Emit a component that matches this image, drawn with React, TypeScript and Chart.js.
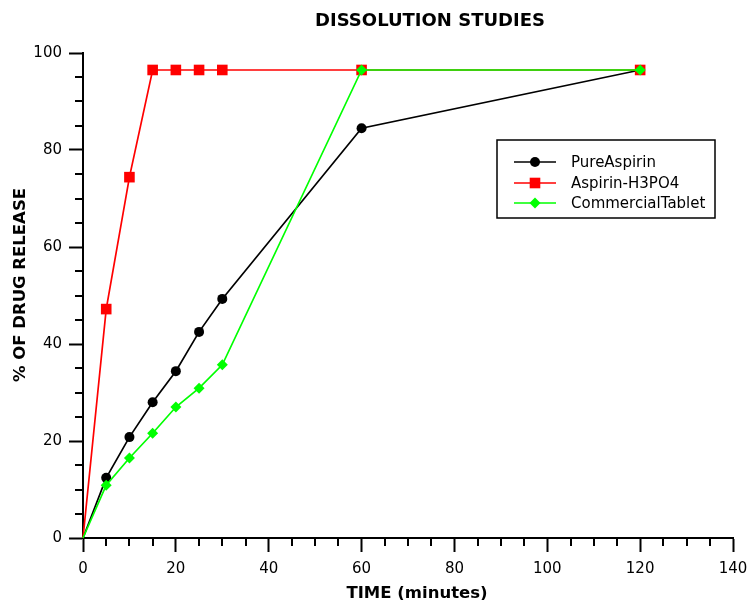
import React, { useEffect, useRef } from 'react';
import { Chart, registerables } from 'chart.js';
import { drawPoint } from 'chart.js/helpers';

Chart.register(...registerables);

// ---- data ----
const timePoints = [0, 5, 10, 15, 20, 25, 30, 60, 120];
const pureAspirin = [0, 12.4, 20.8, 28.0, 34.4, 42.5, 49.3, 84.5, 96.5];
const aspirinH3PO4 = [0, 47.2, 74.4, 96.5, 96.5, 96.5, 96.5, 96.5, 96.5];
const commercialTablet = [0, 10.9, 16.5, 21.6, 27.0, 30.9, 35.7, 96.5, 96.5];
const seriesNames = ['PureAspirin', 'Aspirin-H3PO4', 'CommercialTablet'];
const xMin = 0, xMax = 140, xMajor = 20, xMinor = 5;
const yMin = 0, yMax = 100, yMajor = 20, yMinor = 5;
const chartTitle = 'DISSOLUTION STUDIES';
const xTitle = 'TIME (minutes)';
const yTitle = '% OF DRUG RELEASE';

const FONT = "'DejaVu Sans', Verdana, sans-serif";

const toXY = (ys: number[]) => timePoints.map((x, i) => ({ x, y: ys[i] }));

export default function App() {
  const ref = useRef<HTMLCanvasElement | null>(null);

  useEffect(() => {
    document.body.style.margin = '0';
    const canvas = ref.current;
    if (!canvas) return;

    const styles = [
      { color: '#000000', pointStyle: 'circle', radius: 5 },
      { color: '#ff0000', pointStyle: 'rect', radius: 7.5 },
      { color: '#00ff00', pointStyle: 'rectRot', radius: 5.5 },
    ];
    const series = [pureAspirin, aspirinH3PO4, commercialTablet];

    const datasets = series.map((s, i) => ({
      label: seriesNames[i],
      data: toXY(s),
      borderColor: styles[i].color,
      backgroundColor: styles[i].color,
      borderWidth: 1.7,
      pointStyle: styles[i].pointStyle as any,
      pointRadius: (ctx: any) => (ctx.dataIndex === 0 ? 0 : styles[i].radius),
      pointBorderWidth: 0,
      pointBackgroundColor: styles[i].color,
      tension: 0,
      order: 2 - i,
      clip: false as any,
    }));

    const decor = {
      id: 'decor',
      afterDraw(chart: any) {
        const { ctx, chartArea, scales } = chart;
        const xs = scales.x, ys = scales.y;
        ctx.save();
        // minor ticks
        ctx.strokeStyle = '#000';
        ctx.lineWidth = 2;
        ctx.beginPath();
        for (let v = xMin; v <= xMax; v += xMinor) {
          if (v % xMajor === 0) continue;
          const px = Math.round(xs.getPixelForValue(v));
          ctx.moveTo(px, chartArea.bottom);
          ctx.lineTo(px, chartArea.bottom + 8);
        }
        for (let v = yMin; v <= yMax; v += yMinor) {
          if (v % yMajor === 0) continue;
          const py = Math.round(ys.getPixelForValue(v));
          ctx.moveTo(chartArea.left, py);
          ctx.lineTo(chartArea.left - 8, py);
        }
        ctx.stroke();

        // title
        ctx.fillStyle = '#000';
        ctx.textAlign = 'center';
        ctx.textBaseline = 'middle';
        ctx.font = `bold 18px ${FONT}`;
        ctx.fillText(chartTitle, 430, 21);
        // x title
        ctx.font = `bold 16.5px ${FONT}`;
        ctx.fillText(xTitle, 417, 594);
        // y title
        ctx.save();
        ctx.translate(21, 285);
        ctx.rotate(-Math.PI / 2);
        ctx.fillText(yTitle, 0, 0);
        ctx.restore();

        // legend
        const lx = 497, ly = 140, lw = 218, lh = 78;
        ctx.fillStyle = '#fff';
        ctx.fillRect(lx, ly, lw, lh);
        ctx.strokeStyle = '#000';
        ctx.lineWidth = 1.5;
        ctx.strokeRect(lx, ly, lw, lh);
        const rows = [162, 183, 203];
        seriesNames.forEach((name, i) => {
          const y = rows[i];
          ctx.strokeStyle = styles[i].color;
          ctx.lineWidth = 1.7;
          ctx.beginPath();
          ctx.moveTo(514, y);
          ctx.lineTo(556, y);
          ctx.stroke();
          ctx.fillStyle = styles[i].color;
          drawPoint(ctx, { pointStyle: styles[i].pointStyle as any, radius: styles[i].radius, rotation: 0, borderWidth: 0 } as any, 535, y);
          ctx.fillStyle = '#000';
          ctx.textAlign = 'left';
          ctx.textBaseline = 'middle';
          ctx.font = `15px ${FONT}`;
          ctx.fillText(name, 571, y + 1);
        });
        ctx.restore();
      },
    };

    const chart = new Chart(canvas, {
      type: 'line',
      data: { datasets: datasets as any },
      options: {
        animation: false,
        responsive: false,
        devicePixelRatio: 1,
        layout: { padding: { top: 53, right: 14, left: 0, bottom: 0 } },
        plugins: {
          legend: { display: false },
          title: { display: false },
          tooltip: { enabled: false },
        },
        scales: {
          x: {
            type: 'linear',
            min: xMin,
            max: xMax,
            afterFit: (s: any) => { s.height = 62; s.paddingRight = 0; s.paddingLeft = 0; },
            grid: { drawOnChartArea: false, drawTicks: true, tickLength: 14, tickWidth: 2, tickColor: '#000' },
            border: { display: true, color: '#000', width: 2 },
            ticks: { stepSize: xMajor, color: '#000', font: { family: FONT, size: 15 }, padding: 8, maxRotation: 0 },
          },
          y: {
            type: 'linear',
            min: yMin,
            max: yMax,
            afterFit: (s: any) => { s.width = 83; s.paddingTop = 0; s.paddingBottom = 0; },
            grid: { drawOnChartArea: false, drawTicks: true, tickLength: 14, tickWidth: 2, tickColor: '#000' },
            border: { display: true, color: '#000', width: 2 },
            ticks: { stepSize: yMajor, color: '#000', font: { family: FONT, size: 15 }, padding: 7 },
          },
        },
      },
      plugins: [decor],
    });
    return () => chart.destroy();
  }, []);

  return (
    <div style={{ width: 747, height: 600, overflow: 'hidden', background: '#fff' }}>
      <canvas ref={ref} width={747} height={600} style={{ display: 'block' }} />
    </div>
  );
}
